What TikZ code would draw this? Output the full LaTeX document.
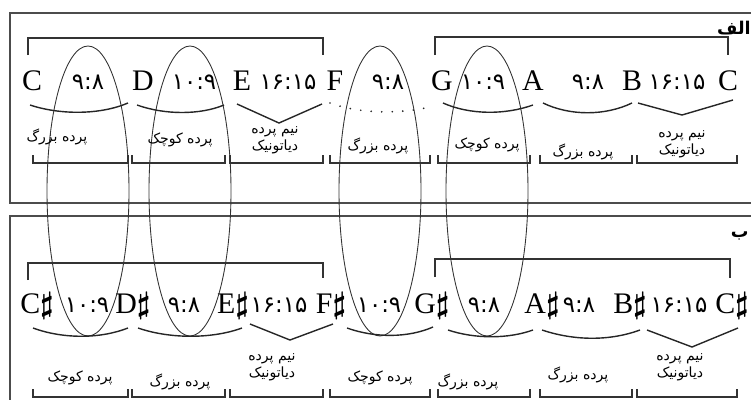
\documentclass[tikz,border=0pt]{standalone}
\usepackage{fontspec}
\setmainfont{Liberation Serif}
\newfontfamily\fafont[Script=Arabic]{DejaVu Sans}
\TeXXeTstate=1
\newcommand{\shp}{{\boldmath$\sharp$}}
\newcommand{\bozorg}{\beginR پرده بزرگ\endR}
\newcommand{\kuchak}{\beginR پرده کوچک\endR}
\newcommand{\nimdia}{\beginR نیم پرده\endR\\\beginR دیاتونیک\endR}

\tikzset{
  note/.style={font=\fontsize{17}{19}\selectfont,anchor=base,inner sep=0pt},
  ratio/.style={font=\fafont\fontsize{13}{15}\selectfont,anchor=base,inner sep=0pt},
  tone/.style={font=\fafont\fontsize{8}{9.5}\selectfont,align=center,inner sep=0pt},
  boxline/.style={black!70,line width=0.8pt},
  bracket/.style={black!80,line width=0.6pt},
  swing/.style={black!85,line width=0.8pt},
  oval/.style={black!80,line width=0.5pt}
}

\begin{document}
\begin{tikzpicture}[x=0.02cm,y=-0.02cm]
\useasboundingbox (0,0) rectangle (751,400);
% frames
\draw[boxline] (751,13) -- (10,13) -- (10,203) -- (751,203);
\draw[boxline] (751,216) -- (10,216) -- (10,400);
\node[font=\fafont\bfseries\fontsize{10}{12}\selectfont,anchor=east,inner sep=0pt] (alef) at (751,28) {\beginR الف\endR};
\node[font=\fafont\bfseries\fontsize{10}{12}\selectfont,anchor=east,inner sep=0pt] (be) at (749,236) {\beginR ب\endR};
% ellipses across both rows
\foreach \x in {88,190,380,487}
  \draw[oval] (\x,191) ellipse (41 and 145);
% upper row
\draw[bracket] (28,55) -- (28,38) -- (323,38) -- (323,55);
\draw[bracket] (435,55) -- (435,37) -- (728,37) -- (728,55);
\foreach \x/\t [count=\i] in {32/C,143/D,242/E,335/F,442/G,533/A,632/B,728/C}
  \node[note] (up\i) at (\x,90) {\t};
\foreach \x/\r [count=\i] in {88/۹:۸,194/۱۰:۹,288/۱۶:۱۵,388/۹:۸,483/۱۰:۹,588/۹:۸,677/۱۶:۱۵}
  \node[ratio] (ur\i) at (\x,89) {\r};
\draw[swing] (30,105) .. controls (60,115) and (100,115) .. (128,103);
\draw[swing] (137,105) .. controls (165,115) and (200,115) .. (224,105);
\draw[swing] (237,104) -- (279,123) -- (322,104);
\draw[black!85,line width=1.1pt,line cap=round,dash pattern=on 0pt off 6pt] (330,103) .. controls (360,114) and (400,114) .. (430,107);
\draw[swing] (443,103) .. controls (470,115) and (505,115) .. (533,105);
\draw[swing] (543,103) .. controls (570,116) and (605,116) .. (632,103);
\draw[swing] (638,103) -- (682,115) -- (733,100);
\foreach \x/\y/\t [count=\i] in {57/137/\bozorg,180/140/\kuchak,275/140/\nimdia,378/146/\bozorg,487/145/\kuchak,583/152/\bozorg,682/144/\nimdia}
  \node[tone] (ut\i) at (\x,\y) {\t};
% lower row
\draw[bracket] (28,280) -- (28,263) -- (323,263) -- (323,278);
\draw[bracket] (435,277) -- (435,259) -- (730,259) -- (730,278);
\foreach \x/\t [count=\i] in {37/C,133/D,233/E,331/F,432/G,542/A,630/B,732/C}
  \node[note] (dn\i) at (\x,313) {\t\shp};
\foreach \x/\r [count=\i] in {87/۱۰:۹,184/۹:۸,279/۱۶:۱۵,379/۱۰:۹,484/۹:۸,579/۹:۸,679/۱۶:۱۵}
  \node[ratio] (dr\i) at (\x,312) {\r};
\draw[swing] (33,328) .. controls (63,339) and (100,339) .. (128,328);
\draw[swing] (138,328) .. controls (170,339) and (212,339) .. (242,328);
\draw[swing] (250,324) -- (290,340) -- (333,324);
\draw[swing] (347,328) .. controls (375,338) and (408,338) .. (433,327);
\draw[swing] (448,330) .. controls (475,339) and (508,339) .. (533,330);
\draw[swing] (542,330) .. controls (575,341) and (610,341) .. (640,330);
\draw[swing] (647,330) -- (692,347) -- (738,328);
\foreach \x/\y/\t [count=\i] in {80/378/\kuchak,180/382/\bozorg,272/367/\nimdia,380/378/\kuchak,468/382/\bozorg,578/375/\bozorg,680/367/\nimdia}
  \node[tone] (dt\i) at (\x,\y) {\t};
% brackets under the names
\foreach \a/\b in {33/128,132/225,230/323,330/430,438/530,540/632,637/737} {
  \draw[bracket] (\a,155) -- (\a,163) -- (\b,163) -- (\b,155);
  \draw[bracket] (\a,389) -- (\a,397) -- (\b,397) -- (\b,389);
}
\end{tikzpicture}
\end{document}
